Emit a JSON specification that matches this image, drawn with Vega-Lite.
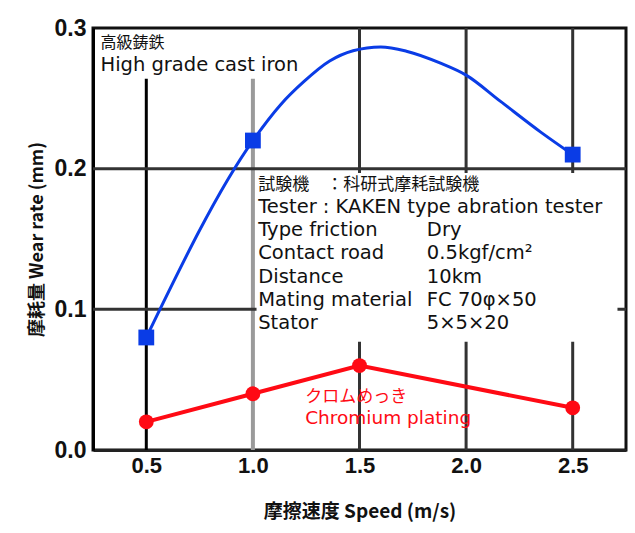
{
  "$schema": "https://vega.github.io/schema/vega-lite/v6.json",
  "width": 533,
  "height": 422,
  "autosize": "none",
  "padding": {"left": 93, "top": 28, "right": 9, "bottom": 83},
  "background": "white",
  "config": {
    "view": {"stroke": "#111111", "strokeWidth": 3},
    "font": "DejaVu Sans"
  },
  "datasets": {
    "castIron": [
      {"speed": 0.5, "wear": 0.08, "measured": true},
      {"speed": 1.0, "wear": 0.22, "measured": true},
      {"speed": 1.13, "wear": 0.2455, "measured": false},
      {"speed": 1.24, "wear": 0.262, "measured": false},
      {"speed": 1.36, "wear": 0.2765, "measured": false},
      {"speed": 1.47, "wear": 0.2838, "measured": false},
      {"speed": 1.6, "wear": 0.2865, "measured": false},
      {"speed": 1.72, "wear": 0.2835, "measured": false},
      {"speed": 1.88, "wear": 0.275, "measured": false},
      {"speed": 2.0, "wear": 0.2665, "measured": false},
      {"speed": 2.16, "wear": 0.248, "measured": false},
      {"speed": 2.35, "wear": 0.226, "measured": false},
      {"speed": 2.5, "wear": 0.21, "measured": true}
    ],
    "chromium": [
      {"speed": 0.5, "wear": 0.02},
      {"speed": 1.0, "wear": 0.04},
      {"speed": 1.5, "wear": 0.06},
      {"speed": 2.5, "wear": 0.03}
    ]
  },
  "encoding": {
    "x": {
      "type": "quantitative",
      "scale": {"domain": [0.25, 2.75], "nice": false, "zero": false},
      "axis": {
        "title": "摩擦速度 Speed (m/s)",
        "values": [0.5, 1.0, 1.5, 2.0, 2.5],
        "format": ".1f",
        "grid": false,
        "ticks": false,
        "domainColor": "#222222",
        "domainWidth": 3,
        "labelFont": "Liberation Sans",
        "labelFontWeight": "bold",
        "labelFontSize": 22,
        "labelColor": "#111111",
        "labelPadding": 5,
        "titleFont": "Noto Sans CJK JP",
        "titleFontWeight": "bold",
        "titleFontSize": 19,
        "titleColor": "#111111",
        "titlePadding": 26
      }
    },
    "y": {
      "type": "quantitative",
      "scale": {"domain": [0, 0.3], "nice": false},
      "axis": {
        "title": "摩耗量 Wear rate (mm)",
        "values": [0, 0.1, 0.2, 0.3],
        "format": ".1f",
        "grid": false,
        "ticks": false,
        "domainColor": "#000000",
        "domainWidth": 3,
        "labelFont": "Liberation Sans",
        "labelFontWeight": "bold",
        "labelFontSize": 23,
        "labelColor": "#111111",
        "labelPadding": 7,
        "titleFont": "Noto Sans CJK JP",
        "titleFontWeight": "bold",
        "titleFontSize": 18,
        "titleColor": "#111111",
        "titlePadding": 8
      }
    }
  },
  "layer": [
    {
      "data": {"values": [{"speed": 0.5, "lo": 0, "hi": 0.264}]},
      "mark": {"type": "rule", "color": "#000000", "strokeWidth": 3},
      "encoding": {"x": {"field": "speed"}, "y": {"field": "lo"}, "y2": {"field": "hi"}}
    },
    {
      "data": {"values": [{"speed": 1.0, "lo": 0, "hi": 0.264}]},
      "mark": {"type": "rule", "color": "#9a9a9a", "strokeWidth": 4},
      "encoding": {"x": {"field": "speed"}, "y": {"field": "lo"}, "y2": {"field": "hi"}}
    },
    {
      "data": {"values": [{"speed": 1.5}, {"speed": 2.0}, {"speed": 2.5}]},
      "mark": {"type": "rule", "color": "#333333", "strokeWidth": 3},
      "encoding": {"x": {"field": "speed"}, "y": {"datum": 0}, "y2": {"datum": 0.3}}
    },
    {
      "data": {"values": [{"wear": 0.1}, {"wear": 0.2}]},
      "mark": {"type": "rule", "color": "#333333", "strokeWidth": 3},
      "encoding": {"y": {"field": "wear"}, "x": {"datum": 0.25}, "x2": {"datum": 2.75}}
    },
    {
      "data": {"values": [{"x0": 1.017, "x1": 2.71, "y0": 0.077, "y1": 0.197}]},
      "mark": {"type": "rect", "color": "white"},
      "encoding": {"x": {"field": "x0"}, "x2": {"field": "x1"}, "y": {"field": "y0"}, "y2": {"field": "y1"}}
    },
    {
      "data": {"name": "castIron"},
      "mark": {"type": "line", "color": "#0a3ce6", "strokeWidth": 3, "interpolate": "monotone"},
      "encoding": {"x": {"field": "speed"}, "y": {"field": "wear"}}
    },
    {
      "data": {"name": "castIron"},
      "transform": [{"filter": "datum.measured"}],
      "mark": {"type": "point", "shape": "square", "filled": true, "size": 250, "color": "#0a3ce6", "opacity": 1},
      "encoding": {"x": {"field": "speed"}, "y": {"field": "wear"}}
    },
    {
      "data": {"name": "chromium"},
      "mark": {"type": "line", "color": "#ff0a14", "strokeWidth": 4},
      "encoding": {"x": {"field": "speed"}, "y": {"field": "wear"}}
    },
    {
      "data": {"name": "chromium"},
      "mark": {"type": "circle", "size": 220, "color": "#ff0a14", "opacity": 1},
      "encoding": {"x": {"field": "speed"}, "y": {"field": "wear"}}
    },
    {
      "data": {"values": [
        {"speed": 0.285, "wear": 0.2895, "label": "高級鋳鉄"}
      ]},
      "mark": {"type": "text", "align": "left", "baseline": "middle", "font": "Noto Sans CJK JP", "fontSize": 16, "color": "#111111"},
      "encoding": {"x": {"field": "speed"}, "y": {"field": "wear"}, "text": {"field": "label"}}
    },
    {
      "data": {"values": [
        {"speed": 0.285, "wear": 0.2735, "label": "High grade cast iron"}
      ]},
      "mark": {"type": "text", "align": "left", "baseline": "middle", "font": "DejaVu Sans", "fontSize": 19.5, "color": "#111111"},
      "encoding": {"x": {"field": "speed"}, "y": {"field": "wear"}, "text": {"field": "label"}}
    },
    {
      "data": {"values": [
        {"speed": 1.025, "wear": 0.1885, "label": "試験機　：科研式摩耗試験機"}
      ]},
      "mark": {"type": "text", "align": "left", "baseline": "middle", "font": "Noto Sans CJK JP", "fontSize": 17, "color": "#111111"},
      "encoding": {"x": {"field": "speed"}, "y": {"field": "wear"}, "text": {"field": "label"}}
    },
    {
      "data": {"values": [
        {"speed": 1.025, "wear": 0.1727, "label": "Tester : KAKEN type abration tester"},
        {"speed": 1.025, "wear": 0.1564, "label": "Type friction"},
        {"speed": 1.025, "wear": 0.14, "label": "Contact road"},
        {"speed": 1.025, "wear": 0.1233, "label": "Distance"},
        {"speed": 1.025, "wear": 0.1066, "label": "Mating material"},
        {"speed": 1.025, "wear": 0.0905, "label": "Stator"},
        {"speed": 1.816, "wear": 0.1564, "label": "Dry"},
        {"speed": 1.816, "wear": 0.14, "label": "0.5kgf/cm²"},
        {"speed": 1.816, "wear": 0.1233, "label": "10km"},
        {"speed": 1.816, "wear": 0.1066, "label": "FC 70φ×50"},
        {"speed": 1.816, "wear": 0.0905, "label": "5×5×20"}
      ]},
      "mark": {"type": "text", "align": "left", "baseline": "middle", "font": "DejaVu Sans", "fontSize": 19.5, "color": "#111111"},
      "encoding": {"x": {"field": "speed"}, "y": {"field": "wear"}, "text": {"field": "label"}}
    },
    {
      "data": {"values": [
        {"speed": 1.245, "wear": 0.0375, "label": "クロムめっき"}
      ]},
      "mark": {"type": "text", "align": "left", "baseline": "middle", "font": "Noto Sans CJK JP", "fontSize": 17, "color": "#ff0a14"},
      "encoding": {"x": {"field": "speed"}, "y": {"field": "wear"}, "text": {"field": "label"}}
    },
    {
      "data": {"values": [
        {"speed": 1.245, "wear": 0.0225, "label": "Chromium plating"}
      ]},
      "mark": {"type": "text", "align": "left", "baseline": "middle", "font": "DejaVu Sans", "fontSize": 18.5, "color": "#ff0a14"},
      "encoding": {"x": {"field": "speed"}, "y": {"field": "wear"}, "text": {"field": "label"}}
    }
  ]
}
